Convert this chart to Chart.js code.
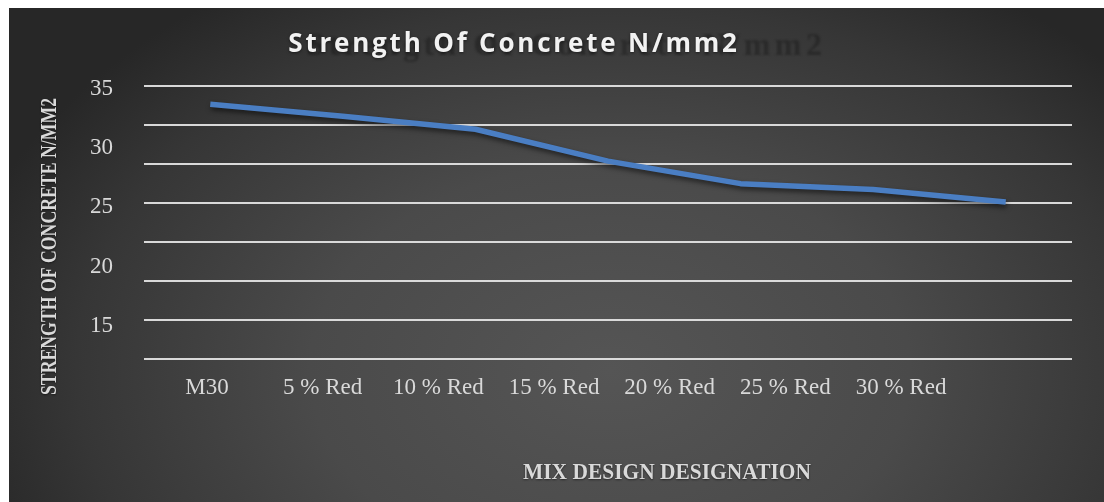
<!DOCTYPE html>
<html>
<head>
<meta charset="utf-8">
<script src="https://cdn.jsdelivr.net/npm/chart.js@4.4.1/dist/chart.umd.min.js"></script>
<style>
  html, body { margin: 0; padding: 0; background: #ffffff; }
  #wrap { width: 1104px; height: 502px; position: relative; }
</style>
</head>
<body>
<div id="wrap"><canvas id="chart" width="1104" height="502"></canvas></div>
<script>
// Mix designations along the horizontal axis
const categories = ['M30', '5 % Red', '10 % Red', '15 % Red', '20 % Red', '25 % Red', '30 % Red'];
// Compressive strength (N/mm2) for each mix
const strength = [33.7, 32.7, 31.6, 28.9, 27.0, 26.5, 25.45];
// Value labels on the vertical axis
const yTickValues = [15, 20, 25, 30, 35];

const chartTitle = 'Strength Of Concrete N/mm2';
const xTitle = 'MIX DESIGN DESIGNATION';
const yTitle = 'STRENGTH OF CONCRETE N/MM2';

// Dark panel with a soft radial highlight, framed by a thin white margin
const backdrop = {
  id: 'backdrop',
  beforeDraw(chart) {
    const ctx = chart.ctx;
    ctx.save();
    ctx.fillStyle = '#ffffff';
    ctx.fillRect(0, 0, chart.width, chart.height);
    ctx.beginPath();
    ctx.rect(9, 8, chart.width - 9, chart.height - 8);
    ctx.clip();
    ctx.translate(610, 370);
    ctx.scale(1.45, 1);
    const g = ctx.createRadialGradient(0, 0, 0, 0, 0, 460);
    g.addColorStop(0, '#555555');
    g.addColorStop(0.45, '#4a4a4a');
    g.addColorStop(0.8, '#363636');
    g.addColorStop(1, '#272727');
    ctx.fillStyle = g;
    ctx.fillRect(-500, -400, 1000, 600);
    ctx.restore();
  }
};

// Draws a bold serif caption squeezed to a given length
function condensedText(ctx, text, x, y, length, rotate) {
  ctx.save();
  ctx.translate(x, y);
  if (rotate) ctx.rotate(-Math.PI / 2);
  const w = ctx.measureText(text).width;
  ctx.scale(length / w, 1);
  ctx.fillText(text, 0, 0);
  ctx.restore();
}

// Chart title and axis titles
const titles = {
  id: 'titles',
  afterDraw(chart) {
    const ctx = chart.ctx;
    ctx.save();
    // faint echo of the heading
    ctx.save();
    ctx.filter = 'blur(1.2px)';
    ctx.font = 'bold 32px "Liberation Serif"';
    ctx.letterSpacing = '4.5px';
    ctx.textAlign = 'right';
    ctx.textBaseline = 'middle';
    ctx.fillStyle = 'rgba(20,20,20,0.4)';
    ctx.fillText(chartTitle, 826.5, 47);
    ctx.restore();

    ctx.font = 'bold 26px "Open Sans"';
    ctx.letterSpacing = '2.8px';
    ctx.textAlign = 'center';
    ctx.textBaseline = 'middle';
    ctx.shadowColor = 'rgba(0,0,0,0.5)';
    ctx.shadowBlur = 3;
    ctx.shadowOffsetY = 1;
    ctx.fillStyle = '#f2f2f2';
    ctx.fillText(chartTitle, 514, 45);

    ctx.letterSpacing = '0px';
    ctx.shadowBlur = 2;
    ctx.fillStyle = '#d9d9d9';
    ctx.font = 'bold 23px "Liberation Serif"';
    condensedText(ctx, xTitle, 667, 473, 288, false);
    condensedText(ctx, yTitle, 50, 246.5, 297, true);
    ctx.restore();
  }
};

// Drop shadow under the series line
const lineShadow = {
  id: 'lineShadow',
  beforeDatasetsDraw(chart) {
    const ctx = chart.ctx;
    ctx.save();
    ctx.shadowColor = 'rgba(0,0,0,0.55)';
    ctx.shadowBlur = 5;
    ctx.shadowOffsetX = 1;
    ctx.shadowOffsetY = 3;
  },
  afterDatasetsDraw(chart) {
    chart.ctx.restore();
  }
};

new Chart(document.getElementById('chart'), {
  type: 'line',
  data: {
    labels: categories,
    datasets: [{
      data: strength,
      xAxisID: 'x',
      yAxisID: 'y',
      borderColor: '#4a7ec3',
      borderWidth: 5.5,
      borderCapStyle: 'butt',
      borderJoinStyle: 'round',
      tension: 0,
      pointRadius: 0,
      pointHoverRadius: 0,
      fill: false
    }]
  },
  options: {
    responsive: false,
    animation: false,
    events: [],
    layout: { padding: { top: 86, left: 0, right: 0, bottom: 0 } },
    plugins: {
      legend: { display: false },
      title: { display: false },
      tooltip: { enabled: false }
    },
    scales: {
      x: {
        type: 'category',
        offset: true,
        display: false
      },
      xl: {
        type: 'linear',
        position: 'bottom',
        min: -0.545,
        max: 7.478,
        afterBuildTicks(scale) {
          scale.ticks = categories.map((c, i) => ({ value: i }));
        },
        afterFit(scale) { scale.height = 502 - 359.3; },
        grid: { display: false, drawTicks: false },
        border: { display: false },
        ticks: {
          autoSkip: false,
          maxRotation: 0,
          padding: 15,
          color: '#d9d9d9',
          font: { family: '"Liberation Serif"', size: 23 },
          callback: (v) => categories[v]
        }
      },
      y: {
        type: 'linear',
        position: 'left',
        min: 12.16,
        max: 35.25,
        afterBuildTicks(scale) {
          scale.ticks = yTickValues.map(v => ({ value: v }));
        },
        afterFit(scale) { scale.width = 144; },
        grid: { display: false, drawTicks: false },
        border: { display: false },
        ticks: {
          padding: 31,
          color: '#d9d9d9',
          font: { family: '"Liberation Serif"', size: 23 }
        }
      },
      yg: {
        type: 'linear',
        position: 'right',
        min: 0,
        max: 7,
        afterFit(scale) { scale.width = 1104 - 1072; },
        ticks: { display: false, stepSize: 1 },
        border: { display: false },
        grid: {
          drawTicks: false,
          color: 'rgba(225,225,225,0.95)',
          lineWidth: 2
        }
      }
    }
  },
  plugins: [backdrop, lineShadow, titles]
});
</script>
</body>
</html>
